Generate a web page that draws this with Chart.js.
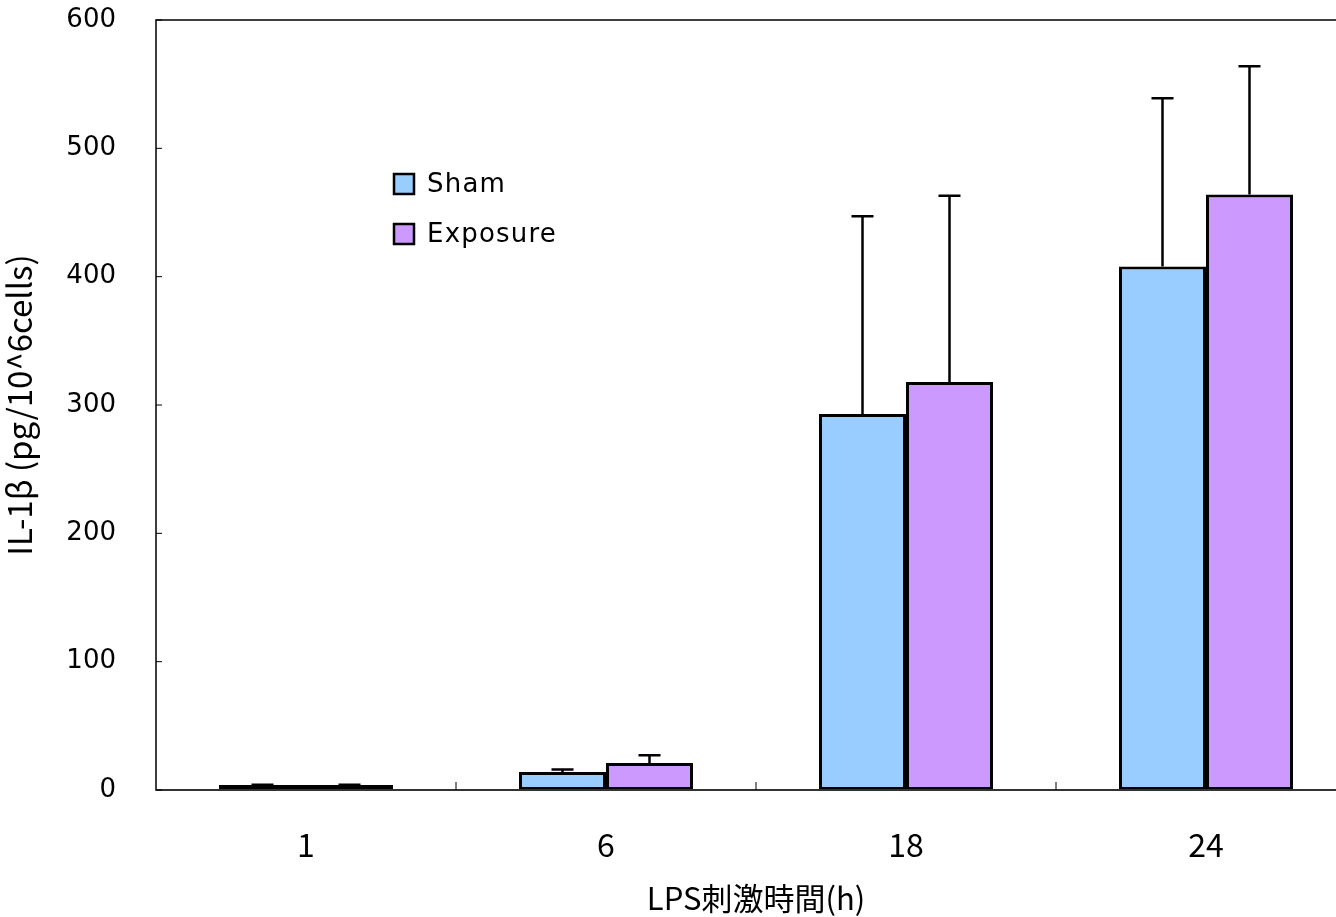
<!DOCTYPE html>
<html>
<head>
<meta charset="utf-8">
<script src="https://cdn.jsdelivr.net/npm/chart.js@4.4.1/dist/chart.umd.min.js"></script>
<style>
  html, body { margin: 0; padding: 0; background: #fff; overflow: hidden; }
  #wrap { position: relative; width: 1356px; height: 917px; }
</style>
</head>
<body>
<div id="wrap"><canvas id="myChart"></canvas></div>
<script>
// data
const hours = ["1", "6", "18", "24"];
const shamMean = [3.8, 14, 293, 408];
const shamErr = [0.3, 2, 154, 131];
const exposureMean = [3.8, 21, 318, 464];
const exposureErr = [0.3, 6, 145, 100];
const yTicks = [0, 100, 200, 300, 400, 500, 600];

const errors = [shamErr, exposureErr];

// one-sided error bars + frame + inward tick marks + legend
const extras = {
  id: "extras",
  afterDatasetsDraw(chart) {
    const ctx = chart.ctx;
    const y = chart.scales.y;
    const x = chart.scales.x;
    const area = chart.chartArea;
    ctx.save();
    ctx.strokeStyle = "#000";
    ctx.lineWidth = 2.5;
    chart.data.datasets.forEach((ds, di) => {
      const meta = chart.getDatasetMeta(di);
      meta.data.forEach((bar, i) => {
        const top = y.getPixelForValue(ds.data[i]);
        const end = y.getPixelForValue(ds.data[i] + errors[di][i]);
        ctx.beginPath();
        ctx.moveTo(bar.x, top);
        ctx.lineTo(bar.x, end);
        ctx.moveTo(bar.x - 11, end);
        ctx.lineTo(bar.x + 11, end);
        ctx.stroke();
      });
    });

    // frame
    ctx.lineWidth = 1.5;
    ctx.strokeStyle = "#000";
    ctx.strokeRect(area.left, area.top, area.right - area.left, area.bottom - area.top);
    ctx.strokeStyle = "#333";
    ctx.lineWidth = 2;
    ctx.beginPath();
    ctx.moveTo(area.left, area.bottom);
    ctx.lineTo(area.right, area.bottom);
    ctx.stroke();

    // inward ticks
    ctx.lineWidth = 1;
    ctx.strokeStyle = "#000";
    yTicks.forEach(v => {
      const py = y.getPixelForValue(v);
      ctx.beginPath();
      ctx.moveTo(area.left, py);
      ctx.lineTo(area.left + 6, py);
      ctx.stroke();
    });
    for (let i = 0; i < hours.length - 1; i++) {
      const px = (x.getPixelForValue(i) + x.getPixelForValue(i + 1)) / 2;
      ctx.beginPath();
      ctx.moveTo(px, area.bottom);
      ctx.lineTo(px, area.bottom - 8);
      ctx.stroke();
    }

    // legend
    ctx.font = "26px 'DejaVu Sans'";
    ctx.letterSpacing = "1.2px";
    ctx.textBaseline = "middle";
    chart.data.datasets.forEach((ds, di) => {
      const ly = 184 + di * 50;
      ctx.fillStyle = ds.backgroundColor;
      ctx.fillRect(394, ly - 10, 20, 20);
      ctx.lineWidth = 2.5;
      ctx.strokeStyle = "#000";
      ctx.strokeRect(394, ly - 10, 20, 20);
      ctx.fillStyle = "#000";
      ctx.fillText(ds.label, 427, ly + 1);
    });
    ctx.restore();
  }
};

const data = {
  labels: hours,
  datasets: [
    {
      label: "Sham",
      data: shamMean,
      backgroundColor: "#99CCFF",
      borderColor: "#000",
      borderWidth: 3,
      borderSkipped: false,
    },
    {
      label: "Exposure",
      data: exposureMean,
      backgroundColor: "#CC99FF",
      borderColor: "#000",
      borderWidth: 3,
      borderSkipped: false,
    },
  ],
};

const config = {
  type: "bar",
  data: data,
  options: {
    responsive: false,
    animation: false,
    devicePixelRatio: 1,
    layout: { padding: { top: 20, right: 0, left: 0, bottom: 0 } },
    plugins: { legend: { display: false }, tooltip: { enabled: false } },
    datasets: { bar: { categoryPercentage: 0.58, barPercentage: 1 } },
    scales: {
      x: {
        grid: { display: false, drawTicks: false },
        border: { display: false },
        ticks: {
          color: "#000",
          padding: 36,
          font: { family: "'Liberation Sans Narrow', 'Noto Sans CJK JP'", size: 32 },
        },
        title: {
          display: true,
          text: "LPS刺激時間(h)",
          color: "#000",
          padding: { top: 14, bottom: 0 },
          font: { family: "'Noto Sans CJK JP'", size: 31 },
        },
        afterFit(scale) {
          scale.height = 127;
          scale.paddingLeft = 0;
          scale.paddingRight = 0;
        },
      },
      y: {
        min: 0,
        max: 600,
        afterBuildTicks(scale) { scale.ticks = yTicks.map(v => ({ value: v })); },
        grid: { display: false, drawTicks: false },
        border: { display: false },
        ticks: {
          color: "#000",
          padding: 40,
          font: { family: "'DejaVu Sans'", size: 26 },
        },
        title: {
          display: true,
          text: "IL-1β (pg/10^6cells)",
          color: "#000",
          padding: { top: 0, bottom: 0 },
          font: { family: "'Noto Sans CJK JP'", size: 33 },
        },
        afterFit(scale) {
          scale.width = 156;
          scale.paddingTop = 0;
          scale.paddingBottom = 0;
        },
      },
    },
  },
  plugins: [extras],
};

const canvas = document.querySelector("#myChart");
canvas.width = 1356;
canvas.height = 917;
let chart = new Chart(canvas, config);
</script>
</body>
</html>
